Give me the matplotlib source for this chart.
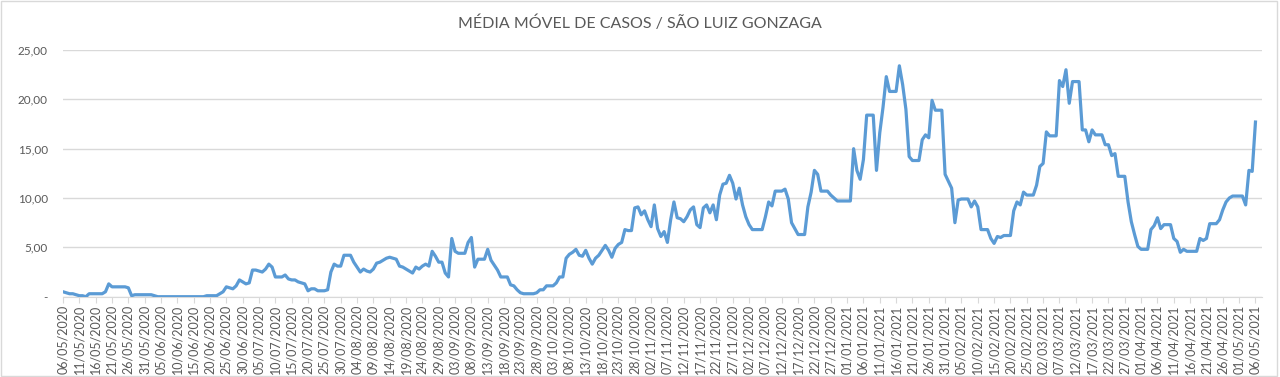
import pandas as pd
import matplotlib
matplotlib.use("Agg")
import matplotlib.pyplot as plt
import matplotlib.dates as mdates
from matplotlib.patches import Rectangle

# media movel diaria (06/05/2020 -> 06/05/2021)
mai_2020 = [0.5, 0.4, 0.3, 0.3, 0.2, 0.1, 0.1, 0.0, 0.3, 0.3, 0.3, 0.3, 0.3, 0.5, 1.3,
            1.0, 1.0, 1.0, 1.0, 1.0, 0.9, 0.1, 0.2, 0.2, 0.2, 0.2]
jun_2020 = [0.2, 0.2, 0.1, 0.0, 0.0, 0.0, 0.0, 0.0, 0.0, 0.0, 0.0, 0.0, 0.0, 0.0, 0.0,
            0.0, 0.0, 0.0, 0.1, 0.1, 0.1, 0.1, 0.3, 0.5, 1.0, 0.9, 0.8, 1.1, 1.7, 1.5]
jul_2020 = [1.3, 1.4, 2.7, 2.7, 2.6, 2.5, 2.8, 3.3, 3.0, 2.0, 2.0, 2.0, 2.2, 1.8, 1.7,
            1.7, 1.5, 1.4, 1.3, 0.6, 0.8, 0.8, 0.6, 0.6, 0.6, 0.7, 2.5, 3.3, 3.1, 3.1, 4.2]
ago_2020 = [4.2, 4.2, 3.5, 3.0, 2.5, 2.8, 2.6, 2.5, 2.8, 3.4, 3.5, 3.7, 3.9, 4.0, 3.9,
            3.8, 3.1, 3.0, 2.8, 2.6, 2.4, 3.0, 2.8, 3.1, 3.3, 3.1, 4.6, 4.1, 3.5, 3.5, 2.4]
set_2020 = [2.0, 5.9, 4.6, 4.4, 4.4, 4.4, 5.5, 6.0, 3.0, 3.8, 3.8, 3.8, 4.8, 3.7, 3.2,
            2.7, 2.0, 2.0, 2.0, 1.2, 1.1, 0.7, 0.4, 0.3, 0.3, 0.3, 0.3, 0.4, 0.7, 0.7]
out_2020 = [1.1, 1.1, 1.1, 1.4, 2.0, 2.0, 3.9, 4.3, 4.5, 4.8, 4.2, 4.1, 4.7, 3.9, 3.3,
            3.9, 4.2, 4.7, 5.2, 4.7, 4.0, 4.9, 5.3, 5.5, 6.8, 6.7, 6.7, 9.0, 9.1, 8.3, 8.7]
nov_2020 = [7.8, 7.1, 9.3, 6.9, 6.1, 6.6, 5.5, 7.8, 9.6, 8.0, 7.9, 7.6, 8.1, 8.8, 9.1,
            7.3, 7.0, 9.0, 9.3, 8.5, 9.3, 7.8, 10.3, 11.4, 11.5, 12.3, 11.5, 9.9, 11.0, 9.3]
dez_2020 = [8.1, 7.3, 6.8, 6.8, 6.8, 6.8, 8.1, 9.6, 9.2, 10.7, 10.7, 10.7, 10.9, 9.9, 7.5,
            6.9, 6.3, 6.3, 6.3, 9.1, 10.6, 12.8, 12.4, 10.7, 10.7, 10.7, 10.3, 10.0, 9.7, 9.7, 9.7]
jan_2021 = [9.7, 9.7, 15.0, 12.8, 11.9, 13.9, 18.4, 18.4, 18.4, 12.8, 16.6, 19.2, 22.3, 20.8, 20.8,
            20.8, 23.4, 21.5, 19.0, 14.2, 13.8, 13.8, 13.8, 15.9, 16.4, 16.1, 19.9, 18.9, 18.9, 18.9, 12.4]
fev_2021 = [11.7, 11.0, 7.5, 9.8, 9.9, 9.9, 9.9, 9.1, 9.7, 9.1, 6.8, 6.8, 6.8, 5.9,
            5.4, 6.1, 6.0, 6.2, 6.2, 6.2, 8.7, 9.6, 9.3, 10.6, 10.3, 10.3, 10.3, 11.3]
mar_2021 = [13.2, 13.5, 16.7, 16.3, 16.3, 16.3, 21.9, 21.3, 23.0, 19.6, 21.8, 21.8, 21.8, 16.9, 16.9,
            15.7, 16.9, 16.4, 16.4, 16.4, 15.4, 15.4, 14.3, 14.5, 12.2, 12.2, 12.2, 9.6, 7.6, 6.3, 5.1]
abr_2021 = [4.8, 4.8, 4.8, 6.8, 7.2, 8.0, 6.9, 7.3, 7.3, 7.3, 5.9, 5.6, 4.5, 4.8, 4.6,
            4.6, 4.6, 4.6, 5.9, 5.7, 5.9, 7.4, 7.4, 7.4, 7.8, 8.8, 9.6, 10.0, 10.2, 10.2]
mai_2021 = [10.2, 10.2, 9.3, 12.8, 12.7, 17.7]

media = (mai_2020 + jun_2020 + jul_2020 + ago_2020 + set_2020 + out_2020 + nov_2020
         + dez_2020 + jan_2021 + fev_2021 + mar_2021 + abr_2021 + mai_2021)
datas = pd.date_range("2020-05-06", periods=len(media), freq="D")

cinza = "#595959"
plt.rcParams["font.family"] = ["Lato", "DejaVu Sans"]

fig = plt.figure(figsize=(12.8, 3.77), dpi=100)
ax = fig.add_axes([63 / 1280, 1 - 296.7 / 377, (1262 - 63) / 1280, (296.7 - 50) / 377])

ax.plot(datas, media, color="#5B9BD5", lw=2.3, solid_joinstyle="round", zorder=3)

ax.set_ylim(0, 25)
ax.set_yticks([0, 5, 10, 15, 20, 25])
ax.set_yticklabels(["-", "5,00", "10,00", "15,00", "20,00", "25,00"])
ax.set_xlim(datas[0], datas[-1] + pd.Timedelta(days=2))
ax.set_xticks(datas[::5])
ax.xaxis.set_major_formatter(mdates.DateFormatter("%d/%m/%Y"))
plt.setp(ax.get_xticklabels(), rotation=90)

ax.grid(axis="y", color="#d9d9d9", lw=1)
ax.set_axisbelow(True)
for s in ["top", "right", "left"]:
    ax.spines[s].set_visible(False)
ax.spines["bottom"].set_color("#d9d9d9")
ax.tick_params(axis="y", length=0, pad=11, labelsize=8.5, labelcolor=cinza)
ax.tick_params(axis="x", length=4, color="#d9d9d9", pad=2, labelsize=9, labelcolor=cinza)

fig.text(0.5, 1 - 23 / 377, "MÉDIA MÓVEL DE CASOS / SÃO LUIZ GONZAGA",
         ha="center", va="center", fontsize=11.5, color=cinza)
fig.patches.append(Rectangle((0.001, 0.002), 0.997, 0.995, transform=fig.transFigure,
                             fill=False, edgecolor="#d9d9d9", lw=1))

fig.savefig("out.png", dpi=100)
